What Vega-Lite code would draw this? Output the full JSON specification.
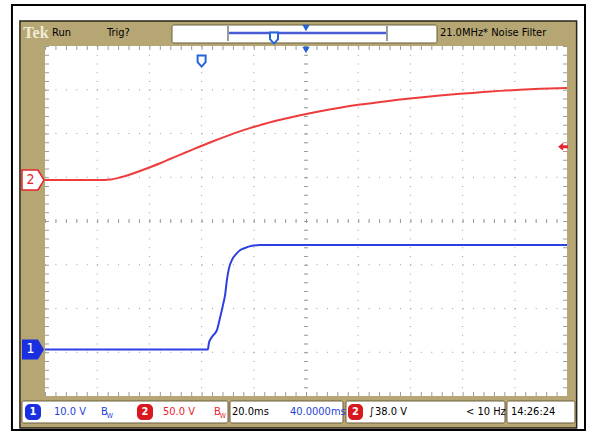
{
  "$schema": "https://vega.github.io/schema/vega-lite/v6.json",
  "width": 522,
  "height": 350,
  "autosize": {"type": "none"},
  "padding": {"left": 45, "top": 46, "right": 23, "bottom": 40},
  "background": "white",
  "config": {"view": {"stroke": null}, "axis": {"disable": true}},
  "resolve": {"scale": {"y": "independent"}},
  "datasets": {
    "outer": [{"t": -72.66, "t2": 146.9, "d": 4.937, "d2": -4.777}],
    "frame": [{"t": -69.6, "t2": 143.69, "d": 4.571, "d2": -4.731}],
    "screen": [{"t": -60, "t2": 140, "d": 4, "d2": -4}],
    "boxes": [
      {"t": -11.34, "t2": 90.19, "d": 4.48, "d2": 4.069},
      {"t": -68.83, "t2": 10.11, "d": -4.114, "d2": -4.617},
      {"t": 10.88, "t2": 54.18, "d": -4.114, "d2": -4.617},
      {"t": 55.32, "t2": 116.24, "d": -4.114, "d2": -4.617},
      {"t": 116.99, "t2": 143.05, "d": -4.114, "d2": -4.617}
    ],
    "vgrid": [{"t": -40}, {"t": -20}, {"t": 0}, {"t": 20}, {"t": 40}, {"t": 60}, {"t": 80}, {"t": 100}, {"t": 120}],
    "hgrid": [{"d": -3}, {"d": -2}, {"d": -1}, {"d": 0}, {"d": 1}, {"d": 2}, {"d": 3}],
    "ch1": [
      {"t": -60, "v": 0}, {"t": 2.4, "v": 0}, {"t": 2.8, "v": 1.5}, {"t": 4.0, "v": 2.9},
      {"t": 5.9, "v": 4.5}, {"t": 7.05, "v": 7.2}, {"t": 8.2, "v": 10.2}, {"t": 9.0, "v": 12.5},
      {"t": 9.7, "v": 15.9}, {"t": 10.5, "v": 18.6}, {"t": 11.65, "v": 20.5}, {"t": 13.2, "v": 21.8},
      {"t": 14.7, "v": 22.7}, {"t": 16.6, "v": 23.2}, {"t": 19.3, "v": 23.7}, {"t": 22.4, "v": 23.9},
      {"t": 140, "v": 23.9}
    ],
    "ch2": [
      {"t": -60, "v": 0}, {"t": -37.0, "v": 0}, {"t": -35.1, "v": 0.46}, {"t": -31.3, "v": 2.86},
      {"t": -27.4, "v": 6.29}, {"t": -23.6, "v": 10.29}, {"t": -19.8, "v": 14.64}, {"t": -15.9, "v": 19.21},
      {"t": -12.1, "v": 24.01}, {"t": -8.3, "v": 28.81}, {"t": -4.4, "v": 33.61}, {"t": -0.6, "v": 38.29},
      {"t": 3.2, "v": 42.86}, {"t": 7.05, "v": 47.32}, {"t": 10.9, "v": 51.55}, {"t": 14.7, "v": 55.55},
      {"t": 18.5, "v": 59.32}, {"t": 22.4, "v": 62.75}, {"t": 28.1, "v": 67.44},
      {"t": 33.9, "v": 71.4}, {"t": 39.6, "v": 75.2}, {"t": 45.4, "v": 78.7}, {"t": 53.0, "v": 82.7},
      {"t": 60.7, "v": 86.2}, {"t": 68.4, "v": 89.2}, {"t": 76.0, "v": 92.0}, {"t": 83.7, "v": 94.4},
      {"t": 91.3, "v": 96.6}, {"t": 99.0, "v": 98.5}, {"t": 106.7, "v": 100.2}, {"t": 114.3, "v": 101.9},
      {"t": 122.0, "v": 103.2}, {"t": 129.7, "v": 104.2}, {"t": 140, "v": 105.2}
    ]
  },
  "layer": [
    {"data": {"name": "outer"}, "mark": {"type": "rect", "fill": "white", "stroke": "black", "strokeWidth": 2},
     "encoding": {"x": {"field": "t", "type": "quantitative", "scale": {"domain": [-60, 140], "nice": false, "zero": false}}, "x2": {"field": "t2"},
                  "y": {"field": "d", "type": "quantitative", "scale": {"domain": [-4, 4], "nice": false, "zero": false}}, "y2": {"field": "d2"}}},
    {"data": {"name": "frame"}, "mark": {"type": "rect", "fill": "#b5a673", "stroke": "#2a2418", "strokeWidth": 1.5},
     "encoding": {"x": {"field": "t", "type": "quantitative", "scale": {"domain": [-60, 140], "nice": false, "zero": false}}, "x2": {"field": "t2"},
                  "y": {"field": "d", "type": "quantitative", "scale": {"domain": [-4, 4], "nice": false, "zero": false}}, "y2": {"field": "d2"}}},
    {"data": {"name": "screen"}, "mark": {"type": "rect", "fill": "white"},
     "encoding": {"x": {"field": "t", "type": "quantitative", "scale": {"domain": [-60, 140], "nice": false, "zero": false}}, "x2": {"field": "t2"},
                  "y": {"field": "d", "type": "quantitative", "scale": {"domain": [-4, 4], "nice": false, "zero": false}}, "y2": {"field": "d2"}}},
    {"data": {"name": "boxes"}, "mark": {"type": "rect", "fill": "white", "stroke": "#6b5f3c", "strokeWidth": 1, "cornerRadius": 2},
     "encoding": {"x": {"field": "t", "type": "quantitative", "scale": {"domain": [-60, 140], "nice": false, "zero": false}}, "x2": {"field": "t2"},
                  "y": {"field": "d", "type": "quantitative", "scale": {"domain": [-4, 4], "nice": false, "zero": false}}, "y2": {"field": "d2"}}},
    {"data": {"name": "vgrid"}, "mark": {"type": "rule", "color": "#9c9c9c", "strokeWidth": 1, "strokeDash": [1, 7.75]},
     "encoding": {"x": {"field": "t", "type": "quantitative", "scale": {"domain": [-60, 140], "nice": false, "zero": false}},
                  "y": {"datum": 4, "type": "quantitative", "scale": {"domain": [-4, 4], "nice": false, "zero": false}}, "y2": {"datum": -4}}},
    {"data": {"name": "hgrid"}, "mark": {"type": "rule", "color": "#9c9c9c", "strokeWidth": 1, "strokeDash": [1, 9.44]},
     "encoding": {"y": {"field": "d", "type": "quantitative", "scale": {"domain": [-4, 4], "nice": false, "zero": false}},
                  "x": {"datum": -60, "type": "quantitative", "scale": {"domain": [-60, 140], "nice": false, "zero": false}}, "x2": {"datum": 140}}},
    {"data": {"values": [{"t": 40}, {"t": -59.23}, {"t": 139.23}]}, "mark": {"type": "rule", "color": "#9c9c9c", "strokeWidth": 4, "strokeDash": [1, 7.75]},
     "encoding": {"x": {"field": "t", "type": "quantitative", "scale": {"domain": [-60, 140], "nice": false, "zero": false}},
                  "y": {"datum": 4, "type": "quantitative", "scale": {"domain": [-4, 4], "nice": false, "zero": false}}, "y2": {"datum": -4}}},
    {"data": {"values": [{"d": 0}, {"d": 3.954}, {"d": -3.954}]}, "mark": {"type": "rule", "color": "#9c9c9c", "strokeWidth": 4, "strokeDash": [1, 9.44]},
     "encoding": {"y": {"field": "d", "type": "quantitative", "scale": {"domain": [-4, 4], "nice": false, "zero": false}},
                  "x": {"datum": -60, "type": "quantitative", "scale": {"domain": [-60, 140], "nice": false, "zero": false}}, "x2": {"datum": 140}}},
    {"data": {"values": [{"t": 10.5, "t2": 70.65, "d": 4.297}]}, "mark": {"type": "rule", "color": "#4b5bd6", "strokeWidth": 2.5},
     "encoding": {"x": {"field": "t", "type": "quantitative", "scale": {"domain": [-60, 140], "nice": false, "zero": false}}, "x2": {"field": "t2"},
                  "y": {"field": "d", "type": "quantitative", "scale": {"domain": [-4, 4], "nice": false, "zero": false}}}},
    {"data": {"values": [{"t": 10.11, "d": 4.457, "d2": 4.114}, {"t": 71.03, "d": 4.457, "d2": 4.114}]}, "mark": {"type": "rule", "color": "#7a7a7a", "strokeWidth": 1.5},
     "encoding": {"x": {"field": "t", "type": "quantitative", "scale": {"domain": [-60, 140], "nice": false, "zero": false}},
                  "y": {"field": "d", "type": "quantitative", "scale": {"domain": [-4, 4], "nice": false, "zero": false}}, "y2": {"field": "d2"}}},
    {"data": {"values": [{"t": 40, "d": 4.411}, {"t": 40, "d": 3.909}]}, "mark": {"type": "point", "shape": "triangle-down", "filled": true, "color": "#2563d9", "size": 55, "opacity": 1},
     "encoding": {"x": {"field": "t", "type": "quantitative", "scale": {"domain": [-60, 140], "nice": false, "zero": false}},
                  "y": {"field": "d", "type": "quantitative", "scale": {"domain": [-4, 4], "nice": false, "zero": false}}}},
    {"data": {"values": [{"t": 27.74, "d": 4.183}, {"t": 0, "d": 3.657}]}, "mark": {"type": "point", "shape": "M-1,-1.4L1,-1.4L1,0.3L0,1.4L-1,0.3Z", "filled": true, "fill": "white", "stroke": "#2563d9", "strokeWidth": 2, "size": 64, "opacity": 1},
     "encoding": {"x": {"field": "t", "type": "quantitative", "scale": {"domain": [-60, 140], "nice": false, "zero": false}},
                  "y": {"field": "d", "type": "quantitative", "scale": {"domain": [-4, 4], "nice": false, "zero": false}}}},
    {"data": {"name": "ch2"}, "mark": {"type": "line", "color": "#ee3b3b", "strokeWidth": 2, "interpolate": "monotone"},
     "encoding": {"x": {"field": "t", "type": "quantitative", "scale": {"domain": [-60, 140], "nice": false, "zero": false}},
                  "y": {"field": "v", "type": "quantitative", "scale": {"domain": [-246.9, 153.2], "nice": false, "zero": false}}}},
    {"data": {"values": [{"t": -64.6, "v": 0}]}, "mark": {"type": "point", "shape": "M-1,-0.9L0.45,-0.9L1,0L0.45,0.9L-1,0.9Z", "filled": true, "fill": "white", "stroke": "#e8242c", "strokeWidth": 1.5, "size": 484, "opacity": 1},
     "encoding": {"x": {"field": "t", "type": "quantitative", "scale": {"domain": [-60, 140], "nice": false, "zero": false}},
                  "y": {"field": "v", "type": "quantitative", "scale": {"domain": [-246.9, 153.2], "nice": false, "zero": false}}}},
    {"data": {"values": [{"t": -65.6, "v": 0, "label": "2"}]}, "mark": {"type": "text", "color": "#e8242c", "fontSize": 14, "font": "DejaVu Sans Condensed, sans-serif", "align": "center", "baseline": "middle"},
     "encoding": {"x": {"field": "t", "type": "quantitative", "scale": {"domain": [-60, 140], "nice": false, "zero": false}},
                  "y": {"field": "v", "type": "quantitative", "scale": {"domain": [-246.9, 153.2], "nice": false, "zero": false}}, "text": {"field": "label"}}},
    {"data": {"values": [{"t": 138.5, "v": 38}]}, "mark": {"type": "point", "shape": "M-1,0L0,-0.8L0,-0.3L1,-0.3L1,0.3L0,0.3L0,0.8Z", "filled": true, "color": "#e8242c", "size": 100, "opacity": 1},
     "encoding": {"x": {"field": "t", "type": "quantitative", "scale": {"domain": [-60, 140], "nice": false, "zero": false}},
                  "y": {"field": "v", "type": "quantitative", "scale": {"domain": [-246.9, 153.2], "nice": false, "zero": false}}}},
    {"data": {"name": "ch1"}, "mark": {"type": "line", "color": "#2d3fe0", "strokeWidth": 2, "interpolate": "monotone"},
     "encoding": {"x": {"field": "t", "type": "quantitative", "scale": {"domain": [-60, 140], "nice": false, "zero": false}},
                  "y": {"field": "v", "type": "quantitative", "scale": {"domain": [-10.63, 69.37], "nice": false, "zero": false}}}},
    {"data": {"values": [{"t": -64.6, "v": 0}]}, "mark": {"type": "point", "shape": "M-1,-0.9L0.45,-0.9L1,0L0.45,0.9L-1,0.9Z", "filled": true, "color": "#1a2fe0", "size": 484, "opacity": 1},
     "encoding": {"x": {"field": "t", "type": "quantitative", "scale": {"domain": [-60, 140], "nice": false, "zero": false}},
                  "y": {"field": "v", "type": "quantitative", "scale": {"domain": [-10.63, 69.37], "nice": false, "zero": false}}}},
    {"data": {"values": [{"t": -65.6, "v": 0, "label": "1"}]}, "mark": {"type": "text", "color": "white", "fontSize": 14, "font": "DejaVu Sans Condensed, sans-serif", "align": "center", "baseline": "middle"},
     "encoding": {"x": {"field": "t", "type": "quantitative", "scale": {"domain": [-60, 140], "nice": false, "zero": false}},
                  "y": {"field": "v", "type": "quantitative", "scale": {"domain": [-10.63, 69.37], "nice": false, "zero": false}}, "text": {"field": "label"}}},
    {"data": {"values": [{"t": -68.3, "d": 4.297, "label": "Tek"}]}, "mark": {"type": "text", "color": "#f2ecd6", "fontSize": 16, "fontWeight": "bold", "font": "Liberation Serif, DejaVu Serif, serif", "align": "left", "baseline": "middle"},
     "encoding": {"x": {"field": "t", "type": "quantitative", "scale": {"domain": [-60, 140], "nice": false, "zero": false}},
                  "y": {"field": "d", "type": "quantitative", "scale": {"domain": [-4, 4], "nice": false, "zero": false}}, "text": {"field": "label"}}},
    {"data": {"values": [{"t": -57.32, "d": 4.297, "label": "Run"}, {"t": -36.24, "d": 4.297, "label": "Trig?"}, {"t": 91.3, "d": 4.297, "label": "21.0MHz* Noise Filter"}]},
     "mark": {"type": "text", "color": "black", "fontSize": 11, "font": "DejaVu Sans Condensed, sans-serif", "align": "left", "baseline": "middle"},
     "encoding": {"x": {"field": "t", "type": "quantitative", "scale": {"domain": [-60, 140], "nice": false, "zero": false}},
                  "y": {"field": "d", "type": "quantitative", "scale": {"domain": [-4, 4], "nice": false, "zero": false}}, "text": {"field": "label"}}},
    {"data": {"values": [{"t": -67.67, "t2": -61.53, "d": -4.183, "d2": -4.549}]}, "mark": {"type": "rect", "fill": "#1a2fe0", "cornerRadius": 5},
     "encoding": {"x": {"field": "t", "type": "quantitative", "scale": {"domain": [-60, 140], "nice": false, "zero": false}}, "x2": {"field": "t2"},
                  "y": {"field": "d", "type": "quantitative", "scale": {"domain": [-4, 4], "nice": false, "zero": false}}, "y2": {"field": "d2"}}},
    {"data": {"values": [{"t": -24.75, "t2": -18.62, "d": -4.183, "d2": -4.549}, {"t": 56.09, "t2": 61.84, "d": -4.183, "d2": -4.549}]}, "mark": {"type": "rect", "fill": "#d8171f", "cornerRadius": 5},
     "encoding": {"x": {"field": "t", "type": "quantitative", "scale": {"domain": [-60, 140], "nice": false, "zero": false}}, "x2": {"field": "t2"},
                  "y": {"field": "d", "type": "quantitative", "scale": {"domain": [-4, 4], "nice": false, "zero": false}}, "y2": {"field": "d2"}}},
    {"data": {"values": [{"t": -64.6, "d": -4.366, "label": "1"}, {"t": -21.69, "d": -4.366, "label": "2"}, {"t": 58.96, "d": -4.366, "label": "2"}]},
     "mark": {"type": "text", "color": "white", "fontSize": 11, "fontWeight": "bold", "font": "DejaVu Sans Condensed, sans-serif", "align": "center", "baseline": "middle"},
     "encoding": {"x": {"field": "t", "type": "quantitative", "scale": {"domain": [-60, 140], "nice": false, "zero": false}},
                  "y": {"field": "d", "type": "quantitative", "scale": {"domain": [-4, 4], "nice": false, "zero": false}}, "text": {"field": "label"}}},
    {"data": {"values": [{"t": -56.55, "d": -4.366, "label": "10.0 V"}, {"t": -38.54, "d": -4.366, "label": "B"}, {"t": 33.87, "d": -4.366, "label": "40.0000ms"}]},
     "mark": {"type": "text", "color": "#1f3fd8", "fontSize": 11, "font": "DejaVu Sans Condensed, sans-serif", "align": "left", "baseline": "middle"},
     "encoding": {"x": {"field": "t", "type": "quantitative", "scale": {"domain": [-60, 140], "nice": false, "zero": false}},
                  "y": {"field": "d", "type": "quantitative", "scale": {"domain": [-4, 4], "nice": false, "zero": false}}, "text": {"field": "label"}}},
    {"data": {"values": [{"t": -36.3, "d": -4.457, "label": "W"}]},
     "mark": {"type": "text", "color": "#1f3fd8", "fontSize": 7, "font": "DejaVu Sans Condensed, sans-serif", "align": "left", "baseline": "middle"},
     "encoding": {"x": {"field": "t", "type": "quantitative", "scale": {"domain": [-60, 140], "nice": false, "zero": false}},
                  "y": {"field": "d", "type": "quantitative", "scale": {"domain": [-4, 4], "nice": false, "zero": false}}, "text": {"field": "label"}}},
    {"data": {"values": [{"t": -14.79, "d": -4.366, "label": "50.0 V"}, {"t": 4.75, "d": -4.366, "label": "B"}]},
     "mark": {"type": "text", "color": "#e8242c", "fontSize": 11, "font": "DejaVu Sans Condensed, sans-serif", "align": "left", "baseline": "middle"},
     "encoding": {"x": {"field": "t", "type": "quantitative", "scale": {"domain": [-60, 140], "nice": false, "zero": false}},
                  "y": {"field": "d", "type": "quantitative", "scale": {"domain": [-4, 4], "nice": false, "zero": false}}, "text": {"field": "label"}}},
    {"data": {"values": [{"t": 7.0, "d": -4.457, "label": "W"}]},
     "mark": {"type": "text", "color": "#e8242c", "fontSize": 7, "font": "DejaVu Sans Condensed, sans-serif", "align": "left", "baseline": "middle"},
     "encoding": {"x": {"field": "t", "type": "quantitative", "scale": {"domain": [-60, 140], "nice": false, "zero": false}},
                  "y": {"field": "d", "type": "quantitative", "scale": {"domain": [-4, 4], "nice": false, "zero": false}}, "text": {"field": "label"}}},
    {"data": {"values": [{"t": 11.65, "d": -4.366, "label": "20.0ms"}, {"t": 64.13, "d": -4.366, "label": "∫"}, {"t": 66.43, "d": -4.366, "label": "38.0 V"}, {"t": 101.3, "d": -4.366, "label": "< 10 Hz"}, {"t": 118.5, "d": -4.366, "label": "14:26:24"}]},
     "mark": {"type": "text", "color": "black", "fontSize": 11, "font": "DejaVu Sans Condensed, sans-serif", "align": "left", "baseline": "middle"},
     "encoding": {"x": {"field": "t", "type": "quantitative", "scale": {"domain": [-60, 140], "nice": false, "zero": false}},
                  "y": {"field": "d", "type": "quantitative", "scale": {"domain": [-4, 4], "nice": false, "zero": false}}, "text": {"field": "label"}}}
  ]
}
